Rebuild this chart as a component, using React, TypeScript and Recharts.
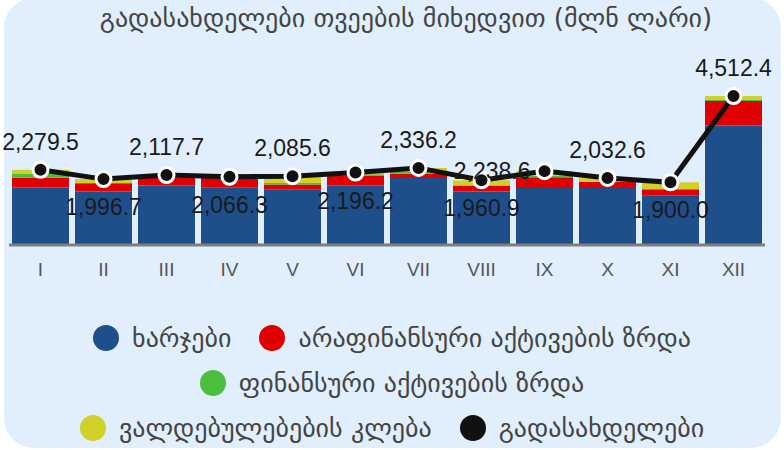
import { ComposedChart, Bar, Line, XAxis, YAxis, LabelList } from 'recharts';

const months = ['I', 'II', 'III', 'IV', 'V', 'VI', 'VII', 'VIII', 'IX', 'X', 'XI', 'XII'];
const expenses = [1740, 1620, 1805, 1734, 1690, 1805, 2030, 1620, 1730, 1725, 1505, 3620];
const nonFinAssets = [300, 250, 230, 300, 140, 300, 130, 180, 320, 190, 182, 740];
const finAssets = [115, 10, 40, 12, 50, 40, 60, 5, 45, 5, 3, 50];
const liabilities = [124.5, 116.7, 42.7, 20.3, 205.6, 51.2, 116.2, 155.9, 143.6, 112.6, 210, 102.4];
const totals = [2279.5, 1996.7, 2117.7, 2066.3, 2085.6, 2196.2, 2336.2, 1960.9, 2238.6, 2032.6, 1900.0, 4512.4];
const labelPos = ['top', 'bottom', 'top', 'bottom', 'top', 'bottom', 'top', 'bottom', 'left', 'top', 'bottom', 'top'];

const series = [
  { key: 'expenses', name: 'ხარჯები', color: '#1e4f8b' },
  { key: 'nonFin', name: 'არაფინანსური აქტივების ზრდა', color: '#e00000' },
  { key: 'fin', name: 'ფინანსური აქტივების ზრდა', color: '#4cbf3f' },
  { key: 'liab', name: 'ვალდებულებების კლება', color: '#cfd12a' },
  { key: 'total', name: 'გადასახდელები', color: '#111111' },
];
const legendRows = [[0, 1], [2], [3, 4]];

const data = months.map((m, i) => ({
  month: m,
  expenses: expenses[i],
  nonFin: nonFinAssets[i],
  fin: finAssets[i],
  liab: liabilities[i],
  total: totals[i],
}));

const geoFont = '"DejaVu Sans", sans-serif';
const numFont = '"Liberation Sans", Arial, sans-serif';

const fmt = (v: number) =>
  v.toLocaleString('en-US', { minimumFractionDigits: 1, maximumFractionDigits: 1 });

const renderLabel = (props: any) => {
  const { x, y, value, index } = props;
  const pos = labelPos[index];
  let tx = x;
  let ty = y - 20;
  let anchor: any = 'middle';
  if (pos === 'bottom') ty = y + 36;
  if (pos === 'left') {
    tx = x - 14;
    ty = y + 8;
    anchor = 'end';
  }
  return (
    <text x={tx} y={ty} textAnchor={anchor} fontSize={23} fontFamily={numFont} fill="#1a1a1a">
      {fmt(value)}
    </text>
  );
};

export default function App() {
  return (
    <div style={{ position: 'absolute', left: 0, top: 0, width: 784, height: 450, background: '#fff', overflow: 'hidden' }}>
      <div
        style={{
          position: 'absolute', left: 4, top: -2, width: 777, height: 450,
          background: '#e1effc', borderRadius: 30,
        }}
      />
      <div
        style={{
          position: 'absolute', left: 28, top: 3, width: 756, textAlign: 'center',
          fontFamily: geoFont, fontSize: 26, color: '#444',
        }}
      >
        გადასახდელები თვეების მიხედვით (მლნ ლარი)
      </div>
      <div style={{ position: 'absolute', left: 0, top: 0 }}>
        <ComposedChart
          width={784}
          height={450}
          data={data}
          margin={{ top: 80, right: 19, bottom: 175, left: 9 }}
        >
          <XAxis
            dataKey="month"
            axisLine={{ stroke: '#7f7f7f', strokeWidth: 3 }}
            tickLine={false}
            height={30}
            tickMargin={12}
            tick={{ fontSize: 19, fill: '#555', fontFamily: numFont }}
          />
          <YAxis hide domain={[0, 5000]} />
          {series.slice(0, 4).map((s) => (
            <Bar key={s.key} dataKey={s.key} stackId="a" fill={s.color} barSize={57} isAnimationActive={false} />
          ))}
          <Line
            dataKey="total"
            stroke="#111"
            strokeWidth={5}
            dot={{ r: 7.5, fill: '#111', stroke: '#fff', strokeWidth: 3 }}
            isAnimationActive={false}
          >
            <LabelList dataKey="total" content={renderLabel} />
          </Line>
        </ComposedChart>
      </div>
      <div style={{ position: 'absolute', left: 0, top: 315, width: 784, fontFamily: geoFont, fontSize: 26, color: '#444' }}>
        {legendRows.map((row, ri) => (
          <div key={ri} style={{ display: 'flex', justifyContent: 'center', height: 45, alignItems: 'center' }}>
            {row.map((si) => (
              <div key={si} style={{ display: 'flex', alignItems: 'center', margin: '0 14px' }}>
                <span style={{ width: 26, height: 26, borderRadius: 13, background: series[si].color, marginRight: 13 }} />
                <span>{series[si].name}</span>
              </div>
            ))}
          </div>
        ))}
      </div>
    </div>
  );
}
